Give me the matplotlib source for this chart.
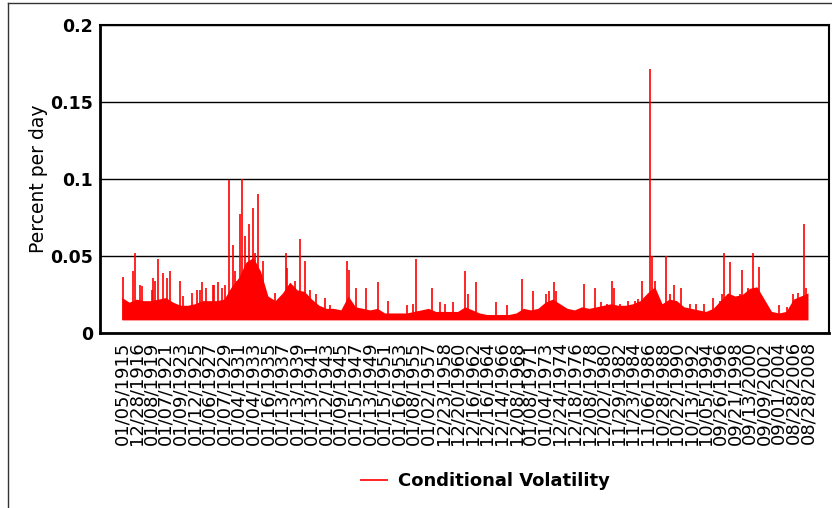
import numpy as np
import matplotlib
matplotlib.use('Agg')
import matplotlib.pyplot as plt
from matplotlib.lines import Line2D

plt.rcParams['font.family'] = ['DejaVu Sans']

# date labels shown under the axis (one every ~500 trading days)
date_labels = ['01/05/1915', '12/28/1916', '01/08/1919', '01/07/1921', '01/09/1923',
               '01/12/1925', '01/06/1927', '01/07/1929', '01/04/1931', '01/04/1933',
               '01/16/1935', '01/13/1937', '01/13/1939', '01/13/1941', '01/12/1943',
               '01/09/1945', '01/15/1947', '01/13/1949', '01/15/1951', '01/16/1953',
               '01/08/1955', '01/02/1957', '12/23/1958', '12/20/1960', '12/16/1962',
               '12/16/1964', '12/14/1966', '12/08/1968', '01/08/1971', '01/04/1973',
               '12/24/1974', '12/18/1976', '12/08/1978', '12/02/1980', '11/29/1982',
               '11/23/1984', '11/06/1986', '10/28/1988', '10/22/1990', '10/13/1992',
               '10/05/1994', '09/26/1996', '09/21/1998', '09/13/2000', '09/09/2002',
               '09/01/2004', '08/28/2006', '08/28/2008']

# lowest level of the series
vol_floor = 0.0085

# upper edge of the dense band, every half label step
band_top = [0.023, 0.020, 0.022, 0.021, 0.021, 0.022, 0.023, 0.020, 0.018, 0.018,
            0.019, 0.021, 0.021, 0.021, 0.022, 0.030, 0.036, 0.046, 0.049, 0.040,
            0.024, 0.021, 0.026, 0.033, 0.028, 0.027, 0.022, 0.018, 0.016, 0.016,
            0.015, 0.024, 0.017, 0.016, 0.015, 0.016, 0.013, 0.013, 0.013, 0.013,
            0.014, 0.015, 0.016, 0.014, 0.014, 0.014, 0.014, 0.017, 0.015, 0.013,
            0.012, 0.012, 0.012, 0.012, 0.013, 0.016, 0.015, 0.016, 0.020, 0.022,
            0.019, 0.016, 0.015, 0.017, 0.016, 0.017, 0.018, 0.019, 0.018, 0.018,
            0.019, 0.021, 0.026, 0.030, 0.019, 0.022, 0.021, 0.017, 0.016, 0.015,
            0.014, 0.016, 0.021, 0.026, 0.024, 0.025, 0.029, 0.030, 0.022, 0.014,
            0.013, 0.014, 0.022, 0.024, 0.026]
band_pos = np.arange(len(band_top)) * 0.5

# single-day spikes (position in label steps, value)
spike_pos = [0.05, 0.77, 0.89, 1.23, 1.35, 2.03, 2.14, 2.26, 2.47, 2.83,
             3.06, 3.29, 3.97, 4.20, 4.77, 5.12, 5.34, 5.48, 5.75, 6.21,
             6.30, 6.60, 6.83, 7.05, 7.31, 7.58, 7.74, 7.90, 8.08, 8.24,
             8.42, 8.72, 8.99, 9.11, 9.34, 9.64, 10.48, 11.23, 11.32, 11.85,
             12.19, 12.53, 12.88, 13.29, 13.90, 14.25, 15.41, 15.57, 16.07, 16.71,
             17.53, 18.24, 19.50, 19.95, 20.14, 21.21, 21.78, 22.12, 22.65, 23.49,
             23.72, 24.25, 25.66, 26.39, 27.44, 28.13, 29.04, 29.25, 29.61, 29.77,
             31.66, 32.40, 32.85, 33.20, 33.58, 33.70, 34.11, 34.68, 35.14, 35.36,
             35.64, 36.21, 36.30, 36.51, 37.24, 37.58, 37.81, 38.29, 38.90, 39.36,
             39.86, 40.46, 40.96, 41.14, 41.25, 41.69, 42.10, 42.33, 42.49, 42.90,
             43.24, 43.65, 45.02, 45.53, 45.98, 46.32, 46.73, 46.85]
spike_val = [0.0366, 0.040, 0.052, 0.031, 0.0305, 0.028, 0.036, 0.034, 0.048, 0.039,
             0.036, 0.040, 0.034, 0.024, 0.026, 0.028, 0.028, 0.033, 0.029, 0.031,
             0.031, 0.033, 0.029, 0.031, 0.0993, 0.057, 0.040, 0.034, 0.077, 0.100,
             0.063, 0.071, 0.081, 0.052, 0.090, 0.047, 0.026, 0.052, 0.042, 0.034,
             0.061, 0.047, 0.028, 0.025, 0.023, 0.018, 0.047, 0.041, 0.029, 0.029,
             0.033, 0.021, 0.018, 0.019, 0.048, 0.029, 0.020, 0.019, 0.020, 0.040,
             0.025, 0.033, 0.020, 0.018, 0.035, 0.027, 0.025, 0.027, 0.033, 0.027,
             0.032, 0.029, 0.020, 0.019, 0.034, 0.029, 0.019, 0.021, 0.021, 0.022,
             0.034, 0.1713, 0.050, 0.034, 0.050, 0.025, 0.031, 0.029, 0.019, 0.019,
             0.019, 0.023, 0.021, 0.025, 0.052, 0.046, 0.021, 0.025, 0.041, 0.029,
             0.052, 0.043, 0.018, 0.017, 0.025, 0.026, 0.071, 0.029]

fig = plt.figure(figsize=(8.32, 5.08), dpi=100)
ax = fig.add_axes([0.1202, 0.3445, 0.8762, 0.6063])

# series
ax.fill_between(band_pos, vol_floor, band_top, color='#ff0000', lw=0, zorder=2)
ax.vlines(spike_pos, vol_floor, spike_val, color='#ff0000', lw=1.2, zorder=2,
          label='Conditional Volatility')

# y axis
ax.set_ylim(0, 0.2)
ax.set_yticks([0, 0.05, 0.1, 0.15, 0.2])
ax.set_yticklabels(['0', '0.05', '0.1', '0.15', '0.2'], fontsize=12.5, fontweight='bold')
ax.yaxis.grid(True, color='black', lw=1)
ax.set_axisbelow(True)
ax.set_ylabel('Percent per day', fontsize=13.5)
ax.yaxis.set_label_coords(-0.071, 0.5)

# x axis
ax.set_xlim(-1.5, 48.44)
ax.set_xticks(np.arange(len(date_labels)))
ax.set_xticklabels(date_labels, rotation=90, fontsize=13)
ax.tick_params(axis='both', length=0)
ax.tick_params(axis='y', pad=5)
ax.tick_params(axis='x', pad=6)

for s in ['top', 'right']:
    ax.spines[s].set_linewidth(1.5)
for s in ['left', 'bottom']:
    ax.spines[s].set_linewidth(2)

# legend under the chart
leg = ax.legend(loc='center left', bbox_to_anchor=(360 / 832, 27 / 508),
                bbox_transform=fig.transFigure, frameon=False, borderpad=0,
                borderaxespad=0, handlelength=1.55, handletextpad=0.55,
                prop={'size': 13, 'weight': 'bold'})

# outer chart frame (top and left edges)
fig.add_artist(Line2D([8 / 832, 1], [1 - 3 / 508, 1 - 3 / 508], color='#333333', lw=1))
fig.add_artist(Line2D([8 / 832, 8 / 832], [0, 1 - 3 / 508], color='#333333', lw=1))

plt.savefig('out.png', dpi=100)
